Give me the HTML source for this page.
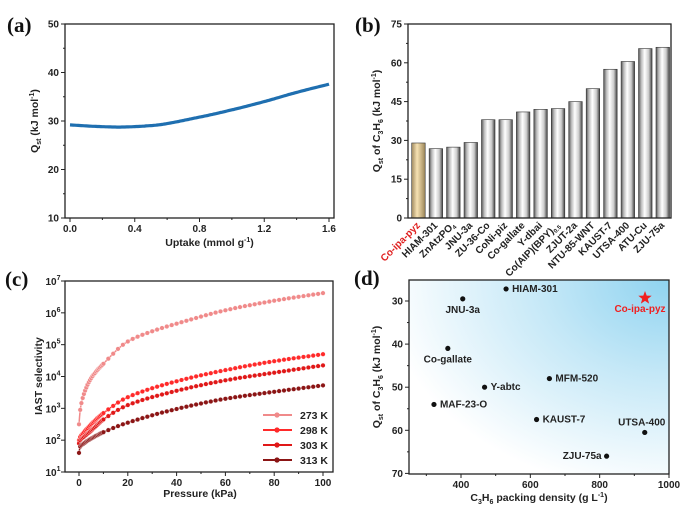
<!DOCTYPE html>
<html><head><meta charset="utf-8"><style>
html,body{margin:0;padding:0;background:#fff;width:700px;height:518px;overflow:hidden}
svg{display:block}
text{font-family:"Liberation Sans",Arial,sans-serif;font-weight:bold;fill:#222}
.pl{font-family:"Liberation Serif",serif;font-size:21px;font-weight:bold;fill:#111}
.tk{font-size:10px}
.ax{font-size:10.5px}
</style></head><body>
<svg id="s" width="700" height="518" viewBox="0 0 700 518" xmlns="http://www.w3.org/2000/svg">
<defs>
<linearGradient id="bar" x1="0" x2="1" y1="0" y2="0">
<stop offset="0" stop-color="#555"/><stop offset="0.2" stop-color="#bbb"/><stop offset="0.45" stop-color="#fff"/><stop offset="0.75" stop-color="#ccc"/><stop offset="1" stop-color="#444"/></linearGradient>
<linearGradient id="bar0" x1="0" x2="1" y1="0" y2="0">
<stop offset="0" stop-color="#a08a60"/><stop offset="0.4" stop-color="#f7e2b3"/><stop offset="1" stop-color="#9c8658"/></linearGradient>
<radialGradient id="bg" cx="1" cy="0" r="1.1" gradientUnits="objectBoundingBox">
<stop offset="0" stop-color="#8fd3f0"/><stop offset="0.45" stop-color="#c5e8f7"/><stop offset="1" stop-color="#ffffff"/></radialGradient>
</defs>
<text class="pl" x="7" y="32">(a)</text>
<text class="pl" x="355" y="32">(b)</text>
<text class="pl" x="5" y="286">(c)</text>
<text class="pl" x="354" y="285">(d)</text>
<g id="g"></g>
</svg>
<script>
var g=document.getElementById('g'),h='';
function L(x1,y1,x2,y2,c,w){h+='<line x1="'+x1+'" y1="'+y1+'" x2="'+x2+'" y2="'+y2+'" stroke="'+(c||'#222')+'" stroke-width="'+(w||1)+'"/>';}
function T(x,y,t,a,cls,ex){h+='<text x="'+x+'" y="'+y+'" text-anchor="'+(a||'middle')+'" class="'+(cls||'tk')+'" '+(ex||'')+'>'+t+'</text>';}
function box(x1,y1,x2,y2){h+='<rect x="'+x1+'" y="'+y1+'" width="'+(x2-x1)+'" height="'+(y2-y1)+'" fill="none" stroke="#222" stroke-width="1.3"/>';}
// monotone cubic interpolation
function mk(pts){var n=pts.length,xs=pts.map(function(p){return p[0]}),ys=pts.map(function(p){return p[1]}),d=[],m=[];
for(var i=0;i<n-1;i++)d.push((ys[i+1]-ys[i])/(xs[i+1]-xs[i]));
m[0]=d[0];m[n-1]=d[n-2];for(var i=1;i<n-1;i++){m[i]=(d[i-1]*d[i]<=0)?0:(2/(1/d[i-1]+1/d[i]));}
return function(x){var j=0;while(j<n-2&&x>xs[j+1])j++;var hh=xs[j+1]-xs[j],t=(x-xs[j])/hh,t2=t*t,t3=t2*t;
return (2*t3-3*t2+1)*ys[j]+(t3-2*t2+t)*hh*m[j]+(-2*t3+3*t2)*ys[j+1]+(t3-t2)*hh*m[j+1];};}
// (a)
(function(){var X0=65,X1=334,Y0=24,Y1=218;
function px(u){return 70+u*(329-70)/1.6;}function py(v){return 218-(v-10)*194/40;}
for(var v=10;v<=50;v+=10){var y=py(v);L(X0,y,X0-4,y);T(X0-6,y+3.5,v,'end');}
for(var v=15;v<50;v+=10){L(X0,py(v),X0-2,py(v));}
for(var u=0;u<=1.6001;u+=0.4){var x=px(u);L(x,Y1,x,Y1+4);T(x,Y1+14,u.toFixed(1));}
for(var u=0.2;u<1.6;u+=0.4){L(px(u),Y1,px(u),Y1+2);}
var f=mk([[0,29.2],[0.15,28.9],[0.3,28.75],[0.5,29.05],[0.8,30.8],[1.0,32.3],[1.2,34],[1.4,35.9],[1.6,37.6]]);
var d='';for(var i=0;i<=160;i++){var u=i*0.01;d+=(i?'L':'M')+px(u).toFixed(1)+' '+py(f(u)).toFixed(1);}
h+='<path d="'+d+'" fill="none" stroke="#1f6fb0" stroke-width="3.2"/>';
box(X0,Y0,X1,Y1);
T(X0+(X1-X0)/2+10,Y1+28,'Uptake (mmol g<tspan dy="-4" font-size="7">-1</tspan><tspan dy="4">)</tspan>','middle','ax');
T(0,0,'Q<tspan dy="3" font-size="7">st</tspan><tspan dy="-3"> (kJ mol</tspan><tspan dy="-4" font-size="7">-1</tspan><tspan dy="4">)</tspan>','middle','ax','transform="translate(38,121) rotate(-90)"');
})();
// (b)
(function(){var X0=408,X1=671,Y0=24,Y1=218;function py(v){return Y1-v*(Y1-Y0)/75;}
var vals=[29,26.8,27.4,29.2,38,38,41,42,42.3,45,50,57.5,60.5,65.5,66];
var names=['Co-ipa-pyz','HIAM-301','ZnAtzPO<tspan font-size="6" dy="2">4</tspan>','JNU-3a','ZU-36-Co','CoNi-piz','Co-gallate','Y-dbai','Co(AIP)(BPY)<tspan font-size="6" dy="2">0.5</tspan>','ZJUT-2a','NTU-85-WNT','KAUST-7','UTSA-400','ATU-Cu','ZJU-75a'];
for(var i=0;i<15;i++){var x=411.7+i*17.45;var y=py(vals[i]);
h+='<rect x="'+x+'" y="'+y+'" width="13.5" height="'+(Y1-y)+'" fill="url(#'+(i?'bar':'bar0')+')" stroke="#333" stroke-width="0.6"/>';
var cx=x+9;T(0,0,names[i],'end','tk',(i==0?'style="fill:#e02020"':'')+' transform="translate('+cx+','+(Y1+8)+') rotate(-45)"');}
for(var v=0;v<=75;v+=15){var y=py(v);L(X0,y,X0-4,y);T(X0-6,y+3.5,v,'end');}
for(var v=7.5;v<75;v+=15){L(X0,py(v),X0-2,py(v));}
box(X0,Y0,X1,Y1);
T(0,0,'Q<tspan dy="3" font-size="7">st</tspan><tspan dy="-3"> of C</tspan><tspan dy="3" font-size="7">3</tspan><tspan dy="-3">H</tspan><tspan dy="3" font-size="7">6</tspan><tspan dy="-3"> (kJ mol</tspan><tspan dy="-4" font-size="7">-1</tspan><tspan dy="4">)</tspan>','middle','ax','transform="translate(380,121) rotate(-90)"');
})();
// (c)
(function(){var X0=65,X1=333,Y0=281,Y1=472;function px(p){return 79+p*(323-79)/100;}function py(l){return Y1-(l-1)*(Y1-Y0)/6;}
for(var e=1;e<=7;e++){var y=py(e);L(X0,y,X0-4,y);T(X0-12,y+4,'10<tspan dy="-5" font-size="7">'+e+'</tspan>','middle');}
for(var p=0;p<=100;p+=20){var x=px(p);L(x,Y1,x,Y1+4);T(x,Y1+14,p);}
for(var p=10;p<100;p+=20){L(px(p),Y1,px(p),Y1+2);}
var S=[['#f08a8a',[[0,2.5],[0.5,2.95],[2,3.45],[5,3.95],[10,4.4],[20,5.1],[30,5.42],[40,5.66],[60,6.08],[80,6.38],[100,6.62]]],
['#ff2a2a',[[0,2.0],[0.5,2.1],[2,2.25],[5,2.5],[10,2.85],[20,3.35],[40,3.85],[60,4.2],[80,4.48],[100,4.7]]],
['#e01818',[[0,1.9],[0.5,2.0],[2,2.1],[5,2.3],[10,2.65],[20,3.1],[40,3.55],[60,3.88],[80,4.12],[100,4.35]]],
['#8b1515',[[0,1.6],[0.5,1.8],[2,1.9],[5,2.05],[10,2.25],[20,2.55],[40,2.98],[60,3.3],[80,3.52],[100,3.72]]]];
S.forEach(function(s){var c=s[0],f=mk(s[1]),d='',m='';
for(var i=0;i<=400;i++){var p=i*0.25;var v=f(p);
var x=px(p).toFixed(1),y=py(v).toFixed(1);d+=(i?'L':'M')+x+' '+y;if(i<40?(i%2==0):(i%8==0))m+='<circle cx="'+x+'" cy="'+y+'" r="2.3" fill="'+c+'" stroke="#fff" stroke-width="0.4"/>';}
h+='<path d="'+d+'" fill="none" stroke="'+c+'" stroke-width="1.5"/>'+m;});
var lg=[['273 K',415,'#f08a8a'],['298 K',430,'#ff2a2a'],['303 K',445,'#e01818'],['313 K',460,'#8b1515']];
lg.forEach(function(l){L(263,l[1],292,l[1],l[2],2);h+='<circle cx="277" cy="'+l[1]+'" r="2.6" fill="'+l[2]+'"/>';T(300,l[1]+4,l[0],'start','ax');});
box(X0,Y0,X1,Y1);
T(200,Y1+25,'Pressure (kPa)','middle','ax');
T(0,0,'IAST selectivity','middle','ax','transform="translate(42,376) rotate(-90)"');
})();
// (d)
(function(){var X0=409,X1=669,Y0=280,Y1=474;function px(v){return 461+(v-400)*(669-461)/600;}function py(v){return 301+(v-30)*4.31;}
h+='<rect x="'+X0+'" y="'+Y0+'" width="'+(X1-X0)+'" height="'+(Y1-Y0)+'" fill="url(#bg)"/>';
for(var v=30;v<=70;v+=10){var y=py(v);L(X0,y,X0-4,y);T(X0-6,y+3.5,v,'end');}
for(var v=35;v<70;v+=10){L(X0,py(v),X0-2,py(v));}
for(var v=400;v<=1000;v+=200){var x=px(v);L(x,Y1,x,Y1+4);T(x,Y1+14,v);}
for(var v=300;v<1000;v+=200){L(px(v),Y1,px(v),Y1+2);}
var P=[['HIAM-301',530,27.2,6,3,'start'],['JNU-3a',405,29.5,0,14,'middle'],['Co-gallate',362,41,0,14,'middle'],['Y-abtc',468,50,6,3,'start'],['MFM-520',655,48,6,3,'start'],['MAF-23-O',322,54,6,3,'start'],['KAUST-7',618,57.5,6,3,'start'],['UTSA-400',930,60.5,-3,-7,'middle'],['ZJU-75a',820,66,-5,3,'end']];
P.forEach(function(p){var x=px(p[1]),y=py(p[2]);h+='<circle cx="'+x+'" cy="'+y+'" r="2.6" fill="#111"/>';T(x+p[3],y+p[4],p[0],p[5]);});
var cx=645,cy=py(29.3),r=7,st='';for(var i=0;i<10;i++){var a=-Math.PI/2+i*Math.PI/5,rr=i%2?r*0.42:r;st+=(cx+rr*Math.cos(a)).toFixed(1)+','+(cy+rr*Math.sin(a)).toFixed(1)+' ';}
h+='<polygon points="'+st+'" fill="#f02020"/>';T(640,cy+14,'Co-ipa-pyz','middle','tk','style="fill:#f02020"');
box(X0,Y0,X1,Y1);
T(539,Y1+27,'C<tspan dy="3" font-size="7">3</tspan><tspan dy="-3">H</tspan><tspan dy="3" font-size="7">6</tspan><tspan dy="-3"> packing density (g L</tspan><tspan dy="-4" font-size="7">-1</tspan><tspan dy="4">)</tspan>','middle','ax');
T(0,0,'Q<tspan dy="3" font-size="7">st</tspan><tspan dy="-3"> of C</tspan><tspan dy="3" font-size="7">3</tspan><tspan dy="-3">H</tspan><tspan dy="3" font-size="7">6</tspan><tspan dy="-3"> (kJ mol</tspan><tspan dy="-4" font-size="7">-1</tspan><tspan dy="4">)</tspan>','middle','ax','transform="translate(380,377) rotate(-90)"');
})();
g.innerHTML=h;
</script>
</body></html>
